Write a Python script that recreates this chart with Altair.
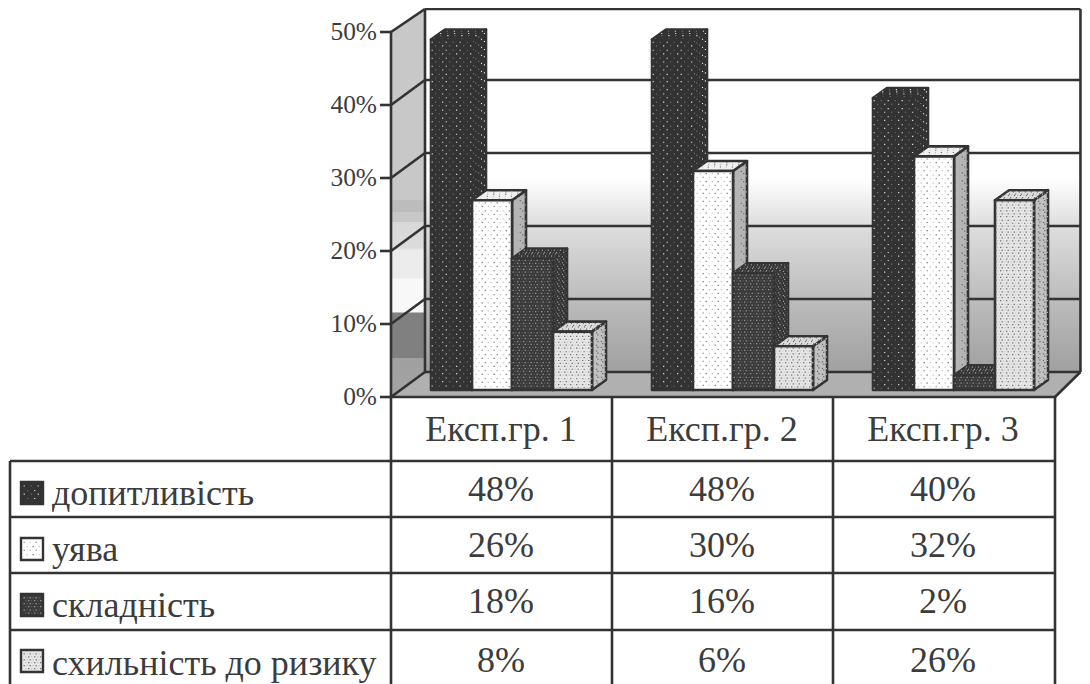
import altair as alt
import pandas as pd

alt.data_transformers.disable_max_rows()

groups = ["Експ.гр. 1", "Експ.гр. 2", "Експ.гр. 3"]
series = ["допитливість", "уява", "складність", "схильність до ризику"]
values = [
    [48, 48, 40],
    [26, 30, 32],
    [18, 16, 2],
    [8, 6, 26],
]
axis_ticks = [0, 10, 20, 30, 40, 50]

INK = "#333333"
TEXT = "#3c3c3c"
FONT = "Liberation Serif"
TOP_PX = 11
BOTTOM_PX = 684
PX_PER_PCT = 7.3
WALL_TOP = 9


def yv(px):
    return (397 - px) / PX_PER_PCT


X = alt.Scale(domain=[8, 1055, 1090], range=[0, 1047, 1074], nice=False, zero=False)
Y = alt.Scale(domain=[yv(BOTTOM_PX), yv(TOP_PX)], nice=False, zero=False)
xq = lambda f="x": alt.X(f"{f}:Q", scale=X, axis=None)
yq = lambda f="y": alt.Y(f"{f}:Q", scale=Y, axis=None)


def grad(stops, top, bottom):
    return {
        "gradient": "linear", "x1": 0, "x2": 0, "y1": 0, "y2": 1,
        "stops": [{"offset": (p - top) / (bottom - top), "color": c} for p, c in stops],
    }


layers = []

# walls and floor
left_fill = grad([(WALL_TOP, "#c8c8c8"), (200, "#c8c8c8"), (200, "#bcbcbc"), (212, "#bcbcbc"), (212, "#c8c8c8"),
                  (222, "#c8c8c8"), (222, "#d8d8d8"), (248, "#dcdcdc"), (250, "#ececec"), (278, "#ececec"),
                  (279, "#f8f8f8"), (312, "#f8f8f8"), (313, "#808080"), (358, "#808080"), (358, "#a0a0a0"),
                  (397, "#a4a4a4")], WALL_TOP, 397)
back_fill = grad([(WALL_TOP, "#ffffff"), (178, "#ffffff"), (225, "#dedede"), (300, "#bcbcbc"), (372, "#a0a0a0")], WALL_TOP, 372)
layers.append(alt.Chart(pd.DataFrame({"x": [391, 425], "y": [yv(31), yv(WALL_TOP)], "y2": [yv(397), yv(372)]}))
              .mark_area(fill=left_fill, orient="vertical").encode(x=xq(), y=yq(), y2="y2:Q"))
layers.append(alt.Chart(pd.DataFrame({"x": [425], "x2": [1088], "y": [yv(WALL_TOP)], "y2": [yv(372)]}))
              .mark_rect(fill=back_fill).encode(x=xq(), x2="x2:Q", y=yq(), y2="y2:Q"))
layers.append(alt.Chart(pd.DataFrame({"y": [yv(397), yv(372)], "x": [391, 425], "x2": [1055, 1088]}))
              .mark_area(fill="#b0b0b0", orient="horizontal").encode(y=yq(), x=xq(), x2="x2:Q"))

# frame and gridlines
segs = []
for t in axis_ticks:
    py = 397 - t * PX_PER_PCT
    back = max(py - 25, WALL_TOP)
    segs.append((380, py, 391, py))
    segs.append((391, py, 425, back))
    segs.append((425, back, 1088, back))
segs += [(391, 397 - 50 * PX_PER_PCT, 391, 684), (425, WALL_TOP, 425, 372), (1088, WALL_TOP, 1088, 372),
         (1055, 397, 1088, 372), (391, 397, 1055, 397)]
table_segs = []
for px in [612, 833, 1055]:
    table_segs.append((px, 397, px, 684))
table_segs.append((10, 461, 10, 684))
for py in [461, 517, 573, 630]:
    table_segs.append((10, py, 1055, py))


def rules(items):
    df = pd.DataFrame(items, columns=["a", "b", "c", "d"])
    df = df.assign(y=df.b.map(yv), y2=df.d.map(yv))
    return alt.Chart(df).mark_rule(color=INK, strokeWidth=2.6).encode(x=xq("a"), x2="c:Q", y=yq(), y2="y2:Q")


layers.append(rules(segs))

# bars: front-face x position, width, face colours, dot patterns
slot_x = [431, 472, 512, 553]
slot_w = [41, 40, 41, 39]
styles = [
    dict(front="#333333", side="#333333", top="#333333", dot="#eeeeee", dot2="#777777", step=(7, 4), size=1.2),
    dict(front="#ffffff", side="#b4b4b4", top="#f0f0f0", dot="#666666", dot2="#bbbbbb", step=(6, 4), size=1.3),
    dict(front="#3a3a3a", side="#333333", top="#333333", dot="#999999", dot2="#5c5c5c", step=(3, 3), size=1.6),
    dict(front="#e6e6e6", side="#c0c0c0", top="#e0e0e0", dot="#6a6a6a", dot2="#c4c4c4", step=(3, 3), size=1.5),
]
DX, DY = 14, 10
BASE_PX = 390
GROUP_STEP = 221


def face_dots(ox, oy, ux, uy, vx, vy, st, rows):
    """Fill a parallelogram origin + s*u + t*v with staggered dots."""
    sx, sy = st["step"]
    lu = (ux * ux + uy * uy) ** 0.5
    lv = (vx * vx + vy * vy) ** 0.5
    if lu < 1 or lv < 1:
        return
    nv = int(lv // sy)
    for j in range(nv):
        t = (j + 0.6) * sy / lv
        off = (j % 2) * sx / 2
        nu = int((lu - off - 1) // sx)
        for i in range(nu + 1):
            s = (i * sx + off + 1.2) / lu
            if s >= 1:
                continue
            rows.append({"x": ox + s * ux + t * vx, "y": yv(oy + s * uy + t * vy),
                         "k": (i + j) % 2})


def dots_layer(rows, st):
    df = pd.DataFrame(rows)
    out = []
    for k, col in [(0, st["dot"]), (1, st["dot2"])]:
        part = df[df.k == k][["x", "y"]].round(1)
        if len(part):
            out.append(alt.Chart(part).mark_point(filled=True, shape="square", size=st["size"], color=col,
                                                  opacity=1, strokeWidth=0).encode(x=xq(), y=yq()))
    return out


for s, row in enumerate(values):
    st = styles[s]
    side, top, front = [], [], []
    rows_front, rows_back = [], []
    for g, v in enumerate(row):
        x0 = slot_x[s] + g * GROUP_STEP
        x1 = x0 + slot_w[s]
        tp = BASE_PX - v * PX_PER_PCT
        side += [{"g": g, "x": x1, "y": yv(tp), "y2": yv(BASE_PX)},
                 {"g": g, "x": x1 + DX, "y": yv(tp - DY), "y2": yv(BASE_PX - DY)}]
        top += [{"g": g, "y": yv(tp), "x": x0, "x2": x1},
                {"g": g, "y": yv(tp - DY), "x": x0 + DX, "x2": x1 + DX}]
        front.append({"x": x0, "x2": x1, "y": yv(tp), "y2": yv(BASE_PX)})
        face_dots(x1, tp, DX, -DY, 0, BASE_PX - tp, st, rows_back)
        face_dots(x0, tp, x1 - x0, 0, DX, -DY, st, rows_back)
        face_dots(x0, tp, x1 - x0, 0, 0, BASE_PX - tp, st, rows_front)
    stroke = dict(stroke=INK, strokeWidth=2.6, strokeJoin="round")
    layers.append(alt.Chart(pd.DataFrame(side)).mark_area(fill=st["side"], orient="vertical", **stroke)
                  .encode(x=xq(), y=yq(), y2="y2:Q", detail="g:N"))
    layers.append(alt.Chart(pd.DataFrame(top)).mark_area(fill=st["top"], orient="horizontal", **stroke)
                  .encode(y=yq(), x=xq(), x2="x2:Q", detail="g:N"))
    layers += dots_layer(rows_back, st)
    layers.append(alt.Chart(pd.DataFrame(front)).mark_rect(fill=st["front"], **stroke)
                  .encode(x=xq(), x2="x2:Q", y=yq(), y2="y2:Q"))
    layers += dots_layer(rows_front, st)

layers.append(rules(table_segs))

# legend swatches in the table
swatch_tops = [482, 538, 594, 650]
for s, ptop in enumerate(swatch_tops):
    st = styles[s]
    layers.append(alt.Chart(pd.DataFrame({"x": [21], "x2": [43], "y": [yv(ptop)], "y2": [yv(ptop + 22)]}))
                  .mark_rect(fill=st["front"], stroke=INK, strokeWidth=2.4)
                  .encode(x=xq(), x2="x2:Q", y=yq(), y2="y2:Q"))
    rows = []
    face_dots(23, ptop + 2, 18, 0, 0, 18, st, rows)
    layers += dots_layer(rows, st)


def texts(df, size, align):
    return alt.Chart(df).mark_text(font=FONT, fontSize=size, align=align, baseline="alphabetic", color=TEXT).encode(
        x=xq(), y=yq(), text="t:N")


tick_df = pd.DataFrame([{"x": 377, "y": yv(397 - t * PX_PER_PCT + 8), "t": f"{t}%"} for t in axis_ticks])
layers.append(texts(tick_df, 25.4, "right"))

col_centers = [501, 722, 943]
head_df = pd.DataFrame([{"x": c, "y": yv(441), "t": g} for c, g in zip(col_centers, groups)])
layers.append(texts(head_df, 36, "center"))

name_base = [505, 561, 617, 675]
name_df = pd.DataFrame([{"x": 52, "y": yv(b), "t": n} for b, n in zip(name_base, series)])
layers.append(texts(name_df, 36, "left"))

val_base = [501, 557, 613, 672]
val_rows = []
for row, b in zip(values, val_base):
    for c, v in zip(col_centers, row):
        val_rows.append({"x": c, "y": yv(b), "t": f"{v}%"})
layers.append(texts(pd.DataFrame(val_rows), 36, "center"))

chart = alt.layer(*layers).properties(
    width=1074,
    height=BOTTOM_PX - TOP_PX,
    padding={"left": 0, "top": TOP_PX - 8, "right": 0, "bottom": 0},
    autosize=alt.AutoSizeParams(type="none"),
    background="#ffffff",
).configure_view(stroke=None)

chart.save("out.html", embed_options={"renderer": "svg", "actions": False})
